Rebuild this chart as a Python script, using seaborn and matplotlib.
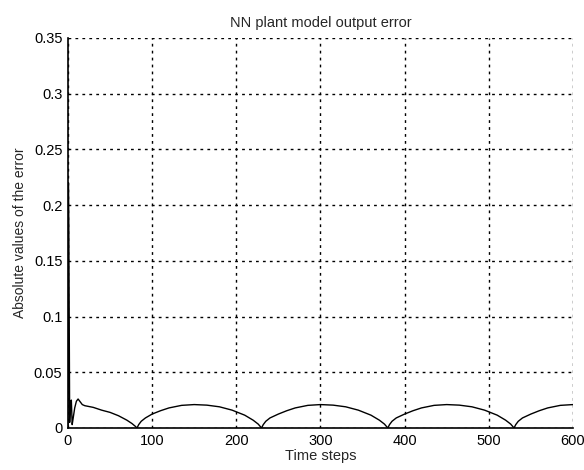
import matplotlib
matplotlib.use("Agg")
import matplotlib.pyplot as plt
import numpy as np
import pandas as pd
import seaborn as sns

# time steps and absolute error
t = [0, 0.5, 1, 2, 3, 4, 5, 6, 8, 10, 12, 14, 17, 20, 30, 40, 50, 60, 70, 76, 80, 82,
     84, 87, 92, 100, 110, 120, 135, 150, 165, 180, 195, 210, 220, 226, 230,
     232, 235, 240, 250, 260, 270, 285, 300, 315, 330, 345, 360, 370, 376, 380,
     382, 385, 390, 400, 410, 420, 435, 450, 465, 480, 495, 510, 520, 526, 530,
     532, 535, 540, 550, 560, 570, 585, 600]
err = [0.0, 0.22, 0.18, 0.005, 0.024, 0.025, 0.003, 0.008, 0.018, 0.024, 0.026, 0.024, 0.021, 0.020,
       0.0185, 0.016, 0.014, 0.011, 0.007, 0.004, 0.0015, 0.0,
       0.003, 0.006, 0.009, 0.0125, 0.0155, 0.018, 0.0203, 0.021, 0.0205, 0.019, 0.016, 0.0115, 0.007, 0.0035, 0.0,
       0.003, 0.006, 0.009, 0.0125, 0.0155, 0.018, 0.0203, 0.021, 0.0205, 0.019, 0.016, 0.0115, 0.007, 0.0035, 0.0,
       0.003, 0.006, 0.009, 0.0125, 0.0155, 0.018, 0.0203, 0.021, 0.0205, 0.019, 0.016, 0.0115, 0.007, 0.0035, 0.0,
       0.003, 0.006, 0.009, 0.0125, 0.0155, 0.018, 0.0203, 0.021]

xticks = [0, 100, 200, 300, 400, 500, 600]
yticks = [0, 0.05, 0.1, 0.15, 0.2, 0.25, 0.3, 0.35]
ylabels = ["0", "0.05", "0.1", "0.15", "0.2", "0.25", "0.3", "0.35"]

sns.set_style("white")
plt.rcParams['font.family'] = ['Liberation Sans', 'DejaVu Sans']

df = pd.DataFrame({"t": t, "err": err})

fig = plt.figure(figsize=(5.84, 4.70), dpi=100)
ax = fig.add_axes([0.1164, 0.0894, 0.8647, 0.8298])
sns.lineplot(data=df, x="t", y="err", color="black", linewidth=1.0, ax=ax)

ax.set_xlim(0, 600)
ax.set_ylim(0, 0.35)
ax.set_xticks(xticks)
ax.set_yticks(yticks)
ax.set_yticklabels(ylabels)
ax.grid(True, color="black", linestyle=(0, (2, 3)), linewidth=1.0)
ax.spines["top"].set_visible(False)
ax.spines["right"].set_visible(False)
for s in ["left", "bottom"]:
    ax.spines[s].set_color("black")
    ax.spines[s].set_linewidth(1.2)
ax.tick_params(direction="in", length=3, width=0.8, colors="black", labelsize=10.5, pad=4)
ax.set_xlabel("Time steps", fontsize=10.5, labelpad=1)
ax.set_ylabel("Absolute values of the error", fontsize=10, labelpad=5)
ax.set_title("NN plant model output error", fontsize=10.5, pad=8)

fig.savefig("out.png", dpi=100)
